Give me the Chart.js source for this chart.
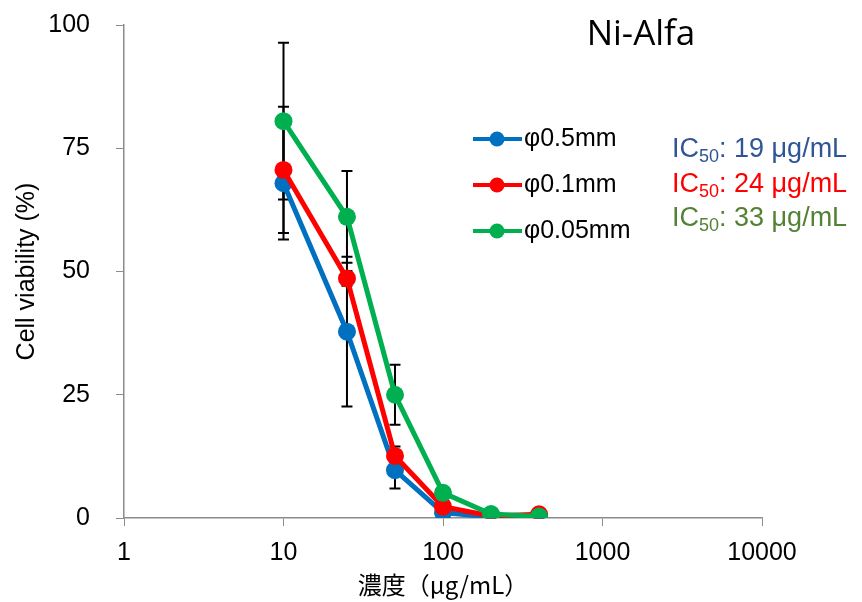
<!DOCTYPE html>
<html>
<head>
<meta charset="utf-8">
<script src="https://cdn.jsdelivr.net/npm/chart.js@4"></script>
<style>
  body { margin: 0; background: #fff; }
  #wrap { width: 862px; height: 602px; }
</style>
</head>
<body>
<div id="wrap"><canvas id="myChart" width="862" height="602"></canvas></div>
<script>
const xValues = [10, 25, 50, 100, 200, 400];
const xTicks = [1, 10, 100, 1000, 10000];
const yTicks = [0, 25, 50, 75, 100];

const labels = ["φ0.5mm", "φ0.1mm", "φ0.05mm"];
const blueValues = [67.9, 37.8, 9.7, 1.1, 0.2, 0.4];
const blueErrors = [11.4, 15.2, 3.7, 0.3, 0.1, 0.1];
const redValues = [70.6, 48.6, 12.6, 2.3, 0.4, 0.75];
const redErrors = [12.8, 1.5, 1.9, 0.5, 0.2, 0.2];
const greenValues = [80.5, 61.1, 25.0, 5.1, 0.8, 0.3];
const greenErrors = [15.9, 9.3, 6.1, 1.0, 0.3, 0.2];
const ic50Labels = [": 19 μg/mL", ": 24 μg/mL", ": 33 μg/mL"];

const ctx = document.getElementById("myChart").getContext("2d");
const arial = "'Liberation Sans', Arial, sans-serif";

const toPoints = (vals) => vals.map((v, i) => ({ x: xValues[i], y: v }));

const errorBars = {
  id: "errorBars",
  beforeDatasetsDraw(chart) {
    const { ctx, scales: { x, y } } = chart;
    ctx.save();
    ctx.strokeStyle = "#000";
    ctx.lineWidth = 2;
    chart.data.datasets.forEach((ds) => {
      ds.data.forEach((pt, i) => {
        const err = ds.errors[i];
        const px = x.getPixelForValue(pt.x);
        const top = y.getPixelForValue(pt.y + err);
        const bot = y.getPixelForValue(Math.max(0, pt.y - err));
        ctx.beginPath();
        ctx.moveTo(px, top);
        ctx.lineTo(px, bot);
        ctx.moveTo(px - 5.5, top);
        ctx.lineTo(px + 5.5, top);
        ctx.moveTo(px - 5.5, bot);
        ctx.lineTo(px + 5.5, bot);
        ctx.stroke();
      });
    });
    ctx.restore();
  },
};

const extras = {
  id: "extras",
  afterDraw(chart) {
    const { ctx } = chart;
    ctx.save();
    // title
    ctx.fillStyle = "#000";
    ctx.font = "35px 'Open Sans', 'Noto Sans', sans-serif";
    ctx.textAlign = "center";
    ctx.textBaseline = "middle";
    ctx.fillText("Ni-Alfa", 641, 35);

    // legend
    const rows = [139, 185, 231];
    chart.data.datasets.forEach((ds, i) => {
      const yy = rows[i];
      ctx.strokeStyle = ds.borderColor;
      ctx.lineWidth = 4;
      ctx.beginPath();
      ctx.moveTo(473, yy);
      ctx.lineTo(522, yy);
      ctx.stroke();
      ctx.fillStyle = ds.backgroundColor;
      ctx.beginPath();
      ctx.arc(497, yy, 7.5, 0, Math.PI * 2);
      ctx.fill();
      ctx.fillStyle = "#000";
      ctx.font = "25px " + arial;
      ctx.textAlign = "left";
      ctx.textBaseline = "middle";
      ctx.fillText(ds.label, 524, yy);
    });

    // IC50 notes
    const icColors = ["#2F5597", "#FF0000", "#548235"];
    const icRows = [150, 185, 219];
    icColors.forEach((c, i) => {
      const yy = icRows[i];
      let xx = 672;
      ctx.fillStyle = c;
      ctx.textAlign = "left";
      ctx.textBaseline = "middle";
      ctx.font = "27px " + arial;
      ctx.fillText("IC", xx, yy);
      xx += ctx.measureText("IC").width;
      ctx.font = "18px " + arial;
      ctx.fillText("50", xx, yy + 7);
      xx += ctx.measureText("50").width;
      ctx.font = "27px " + arial;
      ctx.fillText(ic50Labels[i], xx, yy);
    });
    ctx.restore();
  },
};

new Chart(ctx, {
  type: "line",
  data: {
    datasets: [
      {
        label: labels[0],
        data: toPoints(blueValues),
        errors: blueErrors,
        borderColor: "#0070C0",
        backgroundColor: "#0070C0",
        order: 2,
      },
      {
        label: labels[1],
        data: toPoints(redValues),
        errors: redErrors,
        borderColor: "#FF0000",
        backgroundColor: "#FF0000",
        order: 1,
      },
      {
        label: labels[2],
        data: toPoints(greenValues),
        errors: greenErrors,
        borderColor: "#00B050",
        backgroundColor: "#00B050",
        order: 0,
      },
    ],
  },
  options: {
    responsive: false,
    animation: false,
    events: [],
    layout: { padding: { top: 25, right: 100, left: 0, bottom: 0 } },
    elements: {
      line: { borderWidth: 5, tension: 0 },
      point: { radius: 9, borderWidth: 0, pointStyle: "circle" },
    },
    scales: {
      x: {
        type: "logarithmic",
        min: 1,
        max: 10000,
        afterBuildTicks: (axis) => {
          axis.ticks = xTicks.map((v) => ({ value: v }));
        },
        afterFit: (axis) => {
          axis.height = 84;
        },
        ticks: {
          color: "#000",
          font: { size: 25, family: arial },
          padding: 12,
          maxRotation: 0,
          callback: (v) => String(v),
        },
        grid: { drawOnChartArea: false, tickLength: 8, color: "#8c8c8c" },
        border: { color: "#8c8c8c", width: 1.5 },
        title: {
          display: true,
          text: "濃度（μg/mL）",
          color: "#000",
          font: { size: 24, family: "'Noto Sans CJK JP', " + arial },
          padding: { top: 0, bottom: 3 },
        },
      },
      y: {
        min: 0,
        max: 100,
        afterBuildTicks: (axis) => {
          axis.ticks = yTicks.map((v) => ({ value: v }));
        },
        afterFit: (axis) => {
          axis.width = 124;
          axis.paddingTop = 0;
          axis.paddingBottom = 0;
        },
        ticks: {
          color: "#000",
          font: { size: 25, family: arial },
          padding: 26,
        },
        grid: { drawOnChartArea: false, tickLength: 8, color: "#8c8c8c" },
        border: { color: "#8c8c8c", width: 1.5 },
        title: {
          display: true,
          text: "Cell viability (%)",
          color: "#000",
          font: { size: 25, family: arial },
          padding: { top: 12, bottom: 0 },
        },
      },
    },
    plugins: {
      legend: { display: false },
      tooltip: { enabled: false },
    },
  },
  plugins: [errorBars, extras],
});
</script>
</body>
</html>
